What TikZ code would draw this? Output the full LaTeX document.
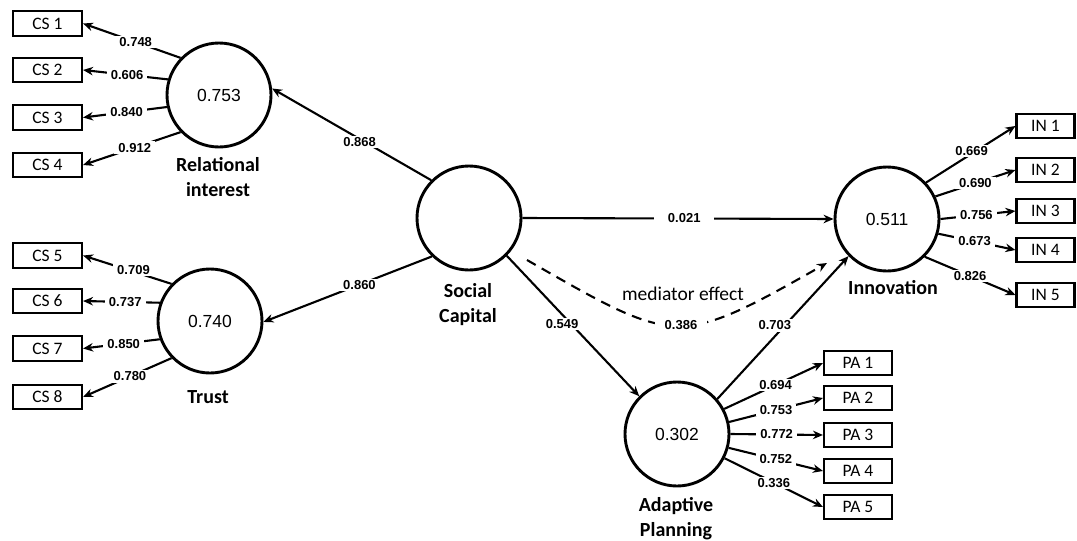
\documentclass[tikz,border=0pt]{standalone}
\usepackage{fontspec}
\setmainfont{Liberation Sans}
\newfontfamily\calfont{Carlito}
\usetikzlibrary{arrows.meta}
\begin{document}
\begin{tikzpicture}[x=1pt,y=-1pt,
  lv/.style={circle,draw,line width=2.9pt,minimum size=104pt,inner sep=0pt,font=\fontsize{17.5}{17.5}\selectfont},
  ind/.style={draw,line width=2.1pt,minimum height=24.5pt,inner sep=0pt,font=\calfont\fontsize{17.5}{17.5}\selectfont},
  cname/.style={font=\calfont\bfseries\fontsize{20}{25}\selectfont,align=center},
  lbl/.style={fill=white,inner sep=1.5pt,inner xsep=4pt,font=\bfseries\fontsize{13}{13}\selectfont},
  edge/.style={line width=2.1pt,-{Stealth[length=10pt,width=8.5pt]}}]
\useasboundingbox[fill=white] (0,0) rectangle (1077,541);
% indicator boxes
\foreach \n/\y in {1/23.5,2/70,3/117.5,4/165,5/255.5,6/301,7/348.5,8/397}
  \node[ind,minimum width=69pt] (cs\n) at (47.5,\y) {CS \n};
\foreach \n/\y in {1/126,2/170,3/211,4/250,5/295}
  \node[ind,minimum width=58pt] (in\n) at (1045.5,\y) {IN \n};
\foreach \n/\y in {1/363,2/398,3/435,4/471,5/507}
  \node[ind,minimum width=68pt] (pa\n) at (858,\y) {PA \n};
% latent variables
\node[lv] (rel) at (219,95) {0.753};
\node[lv] (trust) at (210,321) {0.740};
\node[lv] (sc) at (469,218) {};
\node[lv] (inn) at (887,219) {0.511};
\node[lv] (ap) at (677,434) {0.302};
% construct names
\node[cname] (nrel) at (218,177) {Relational\\interest};
\node[cname] (ntrust) at (208,397) {Trust};
\node[cname] (nsc) at (468,305) {Social\\Capital};
\node[cname] (ninn) at (893,288) {Innovation};
\node[cname] (nap) at (676,519) {Adaptive\\Planning};
% outer loadings
\draw[edge] (rel.136) -- node[lbl,pos=0.46] (l1) {0.748} (cs1.east);
\draw[edge] (rel.163) -- node[lbl,pos=0.48] (l2) {0.606} (cs2.east);
\draw[edge] (rel.193) -- node[lbl,pos=0.48] (l3) {0.840} (cs3.east);
\draw[edge] (rel.224) -- node[lbl,pos=0.47] (l4) {0.912} (cs4.east);
\draw[edge] (trust.136) -- node[lbl,pos=0.43,yshift=2pt] (l5) {0.709} (cs5.east);
\draw[edge] (trust.160) -- node[lbl,pos=0.45] (l6) {0.737} (cs6.east);
\draw[edge] (trust.200) -- node[lbl,pos=0.47] (l7) {0.850} (cs7.east);
\draw[edge] (trust.224) -- node[lbl,pos=0.47] (l8) {0.780} (cs8.east);
\draw[edge] (inn.43) -- node[lbl,pos=0.51,yshift=3pt] (l9) {0.669} (in1.west);
\draw[edge] (inn.25) -- node[lbl,pos=0.5] (l10) {0.690} (in2.west);
\draw[edge] (inn.0) -- node[lbl,pos=0.48] (l11) {0.756} (in3.west);
\draw[edge] (inn.-16) -- node[lbl,pos=0.47] (l12) {0.673} (in4.west);
\draw[edge] (inn.-45) -- node[lbl,pos=0.5] (l13) {0.826} (in5.west);
\draw[edge] (ap.28) -- node[lbl,pos=0.52] (l14) {0.694} (pa1.west);
\draw[edge] (ap.13) -- node[lbl,pos=0.5] (l15) {0.753} (pa2.west);
\draw[edge] (ap.0) -- node[lbl,pos=0.5] (l16) {0.772} (pa3.west);
\draw[edge] (ap.-15) -- node[lbl,pos=0.5] (l17) {0.752} (pa4.west);
\draw[edge] (ap.-27) -- node[lbl,pos=0.5] (l18) {0.336} (pa5.west);
% structural paths
\draw[edge] (sc.135) -- node[lbl,pos=0.45,yshift=-3pt] (p1) {0.868} (rel.7);
\draw[edge] (sc.226) -- node[lbl,pos=0.43] (p2) {0.860} (trust.-1);
\draw[edge] (sc.east) -- node[lbl,pos=0.52,inner xsep=14pt] (p3) {0.021} (inn.west);
\draw[edge] (sc.-45) -- node[lbl,pos=0.486,xshift=-9pt,inner xsep=6pt] (p4) {0.549} (ap.135);
\draw[edge] (ap.41) -- node[lbl,pos=0.514,xshift=-10pt,inner xsep=6pt] (p5) {0.703} (inn.224);
% mediator effect
\coordinate (ms) at (527,260);
\coordinate (me) at (827,263);
\draw[edge,dash pattern=on 10pt off 7pt] (ms) .. controls (677,346) and (677,348) .. (me);
\node[lbl,inner xsep=10pt] (p6) at (681,325) {0.386};
\node[font=\calfont\fontsize{19.5}{19.5}\selectfont] (med) at (683,294) {mediator effect};
\end{tikzpicture}
\end{document}
